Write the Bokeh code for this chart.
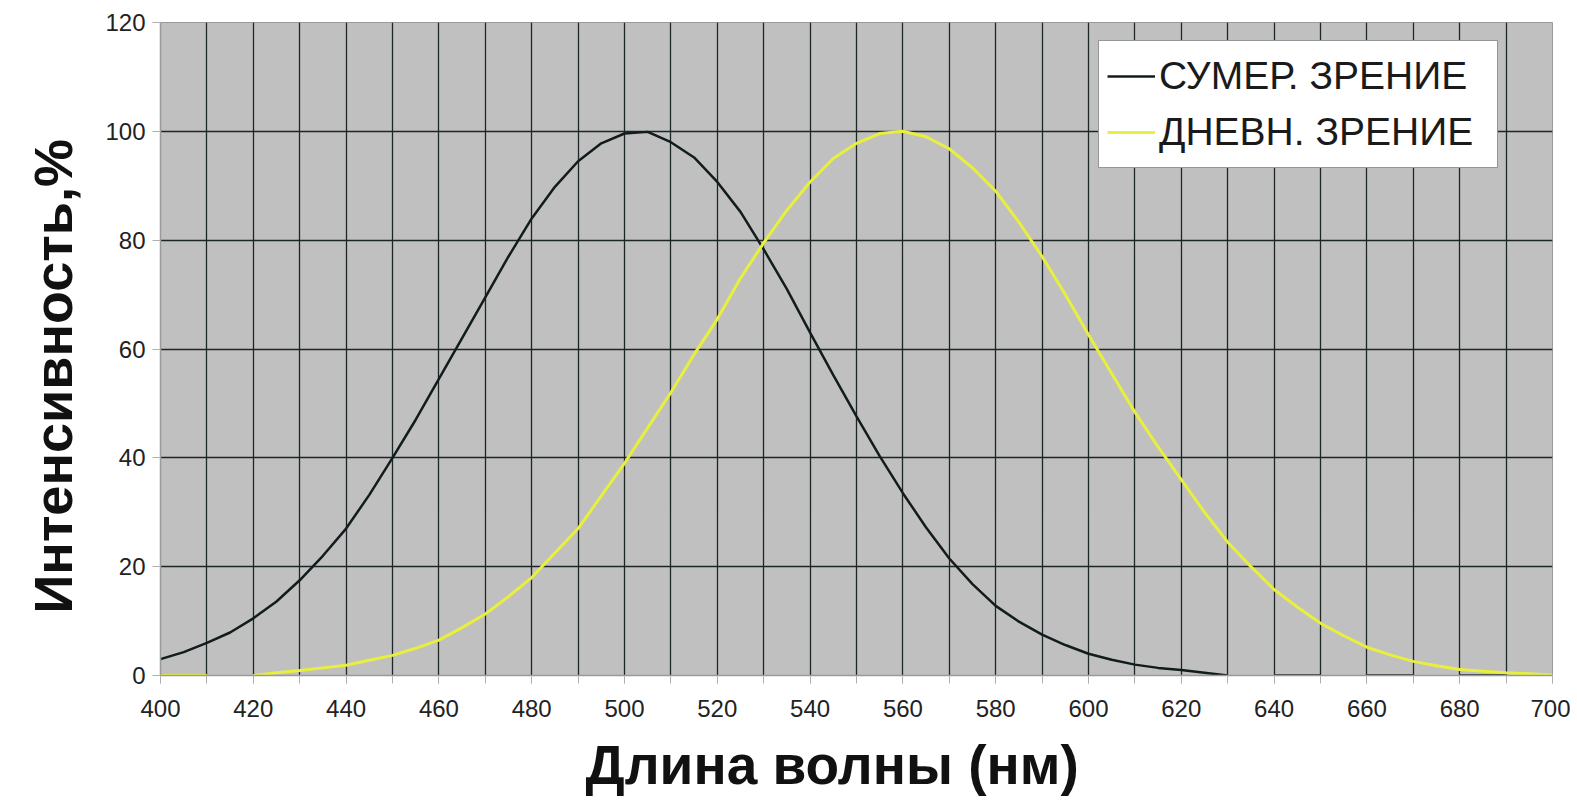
from bokeh.plotting import figure
from bokeh.models import Legend, LegendItem, FixedTicker, SingleIntervalTicker, Title
from bokeh.embed import file_html
from bokeh.resources import INLINE

NaN = float("nan")

# Scotopic (twilight) vision curve, % (read every 5 nm)
scot_nm = [400, 405, 410, 415, 420, 425, 430, 435, 440, 445, 450, 455, 460, 465,
           470, 475, 480, 485, 490, 495, 500, 505, 510, 515, 520, 525, 530, 535,
           540, 545, 550, 555, 560, 565, 570, 575, 580, 585, 590, 595, 600, 605,
           610, 615, 620, 625, 630,
           NaN, 640, 650, NaN, 660, 670, NaN, 680, 690]
scot_val = [3, 4.3, 6, 7.9, 10.5, 13.6, 17.5, 22, 27, 33.2, 40, 47, 54.5, 62,
            69.5, 77, 84, 89.8, 94.5, 97.8, 99.6, 99.9, 98, 95.2, 90.7, 85.2, 78.3, 71,
            63, 55.2, 47.6, 40.3, 33.5, 27.2, 21.5, 16.8, 12.8, 9.9, 7.5, 5.6, 4, 2.9,
            2, 1.4, 1, 0.5, 0,
            NaN, 0, 0, NaN, 0, 0, NaN, 0, 0]

# Photopic (day) vision curve, % (read every 5 nm)
phot_nm = [400, 410, NaN, 420, 425, 430, 435, 440, 445, 450, 455, 460, 465, 470,
           475, 480, 485, 490, 495, 500, 505, 510, 515, 520, 525, 530, 535, 540,
           545, 550, 555, 560, 565, 570, 575, 580, 585, 590, 595, 600, 605, 610,
           615, 620, 625, 630, 635, 640, 645, 650, 655, 660, 665, 670, 675, 680,
           685, 690, 695, 700]
phot_val = [0, 0, NaN, 0, 0.5, 0.9, 1.4, 1.9, 2.8, 3.7, 5, 6.5, 8.8, 11.3,
            14.5, 18, 22.5, 27, 33, 39, 45.5, 52, 59, 65.5, 73, 79.5, 85.5, 90.7,
            95, 97.8, 99.6, 100, 99, 96.8, 93.3, 89, 83.3, 77, 70, 62.6, 55.5, 48.4,
            42, 36, 30, 24.5, 20, 15.8, 12.6, 9.6, 7.3, 5.2, 3.8, 2.6, 1.8, 1.1,
            0.8, 0.5, 0.3, 0.1]

x_ticks_major = list(range(400, 701, 20))
y_ticks_major = list(range(0, 121, 20))

legend_labels = ["СУМЕР. ЗРЕНИЕ", "ДНЕВН. ЗРЕНИЕ"]
x_title = "Длина волны (нм)"
y_title = "Интенсивность,%"

FONT = "Liberation Sans"

p = figure(width=1570, height=808, x_range=(400, 700), y_range=(0, 120),
           output_backend="svg", toolbar_location=None,
           min_border_left=160, min_border_right=18, min_border_top=22,
           min_border_bottom=133)

p.background_fill_color = "#c0c0c0"
p.border_fill_color = "white"
p.outline_line_color = "#9a9a9a"
p.outline_line_width = 1

# grid
p.xgrid.ticker = FixedTicker(ticks=list(range(410, 700, 10)))
p.ygrid.ticker = FixedTicker(ticks=list(range(20, 121, 20)))
for g in (p.xgrid, p.ygrid):
    g.grid_line_color = "#1c2626"
    g.grid_line_width = 1.3
    g.grid_line_alpha = 1

# axes
p.xaxis.ticker = SingleIntervalTicker(interval=20, num_minor_ticks=2)
p.yaxis.ticker = FixedTicker(ticks=y_ticks_major)
for ax in (p.xaxis, p.yaxis):
    ax.axis_line_color = "#9a9a9a"
    ax.axis_line_width = 1.5
    ax.major_tick_line_color = "#b0b0b0"
    ax.minor_tick_line_color = "#b0b0b0"
    ax.major_tick_in = 0
    ax.minor_tick_in = 0
    ax.major_tick_out = 8
    ax.minor_tick_out = 8
    ax.major_label_text_font = FONT
    ax.major_label_text_font_size = "24px"
    ax.major_label_text_color = "#222222"
p.yaxis.minor_tick_line_color = None
p.xaxis.major_label_standoff = 16
p.yaxis.major_label_standoff = 7

# axis titles as side titles
xt = Title(text=x_title, align="left", offset=425, standoff=25,
           text_font=FONT, text_font_style="bold", text_font_size="55px",
           text_color="#111111", text_line_height=0.8)
yt = Title(text=y_title, align="left", offset=62, standoff=36,
           vertical_align="top",
           text_font=FONT, text_font_style="bold", text_font_size="54px",
           text_color="#111111")
p.add_layout(xt, "below")
p.add_layout(yt, "left")

r1 = p.line(scot_nm, scot_val, line_color="#121c1c", line_width=2.5)
r2 = p.line(phot_nm, phot_val, line_color="#e8ef3c", line_width=3)

legend = Legend(items=[LegendItem(label=legend_labels[0], renderers=[r1]),
                       LegendItem(label=legend_labels[1], renderers=[r2])],
                location=(938, 507))
legend.label_text_font = FONT
legend.label_text_font_size = "39px"
legend.label_text_color = "#1a1a1a"
legend.glyph_width = 48
legend.glyph_height = 54
legend.label_height = 54
legend.label_width = 330
legend.label_standoff = 4
legend.padding = 8
legend.spacing = 2
legend.margin = 0
legend.border_line_color = "#2a3030"
legend.border_line_width = 1
legend.background_fill_color = "white"
legend.background_fill_alpha = 1
p.add_layout(legend)

open("out.html", "w").write(file_html(p, INLINE))
